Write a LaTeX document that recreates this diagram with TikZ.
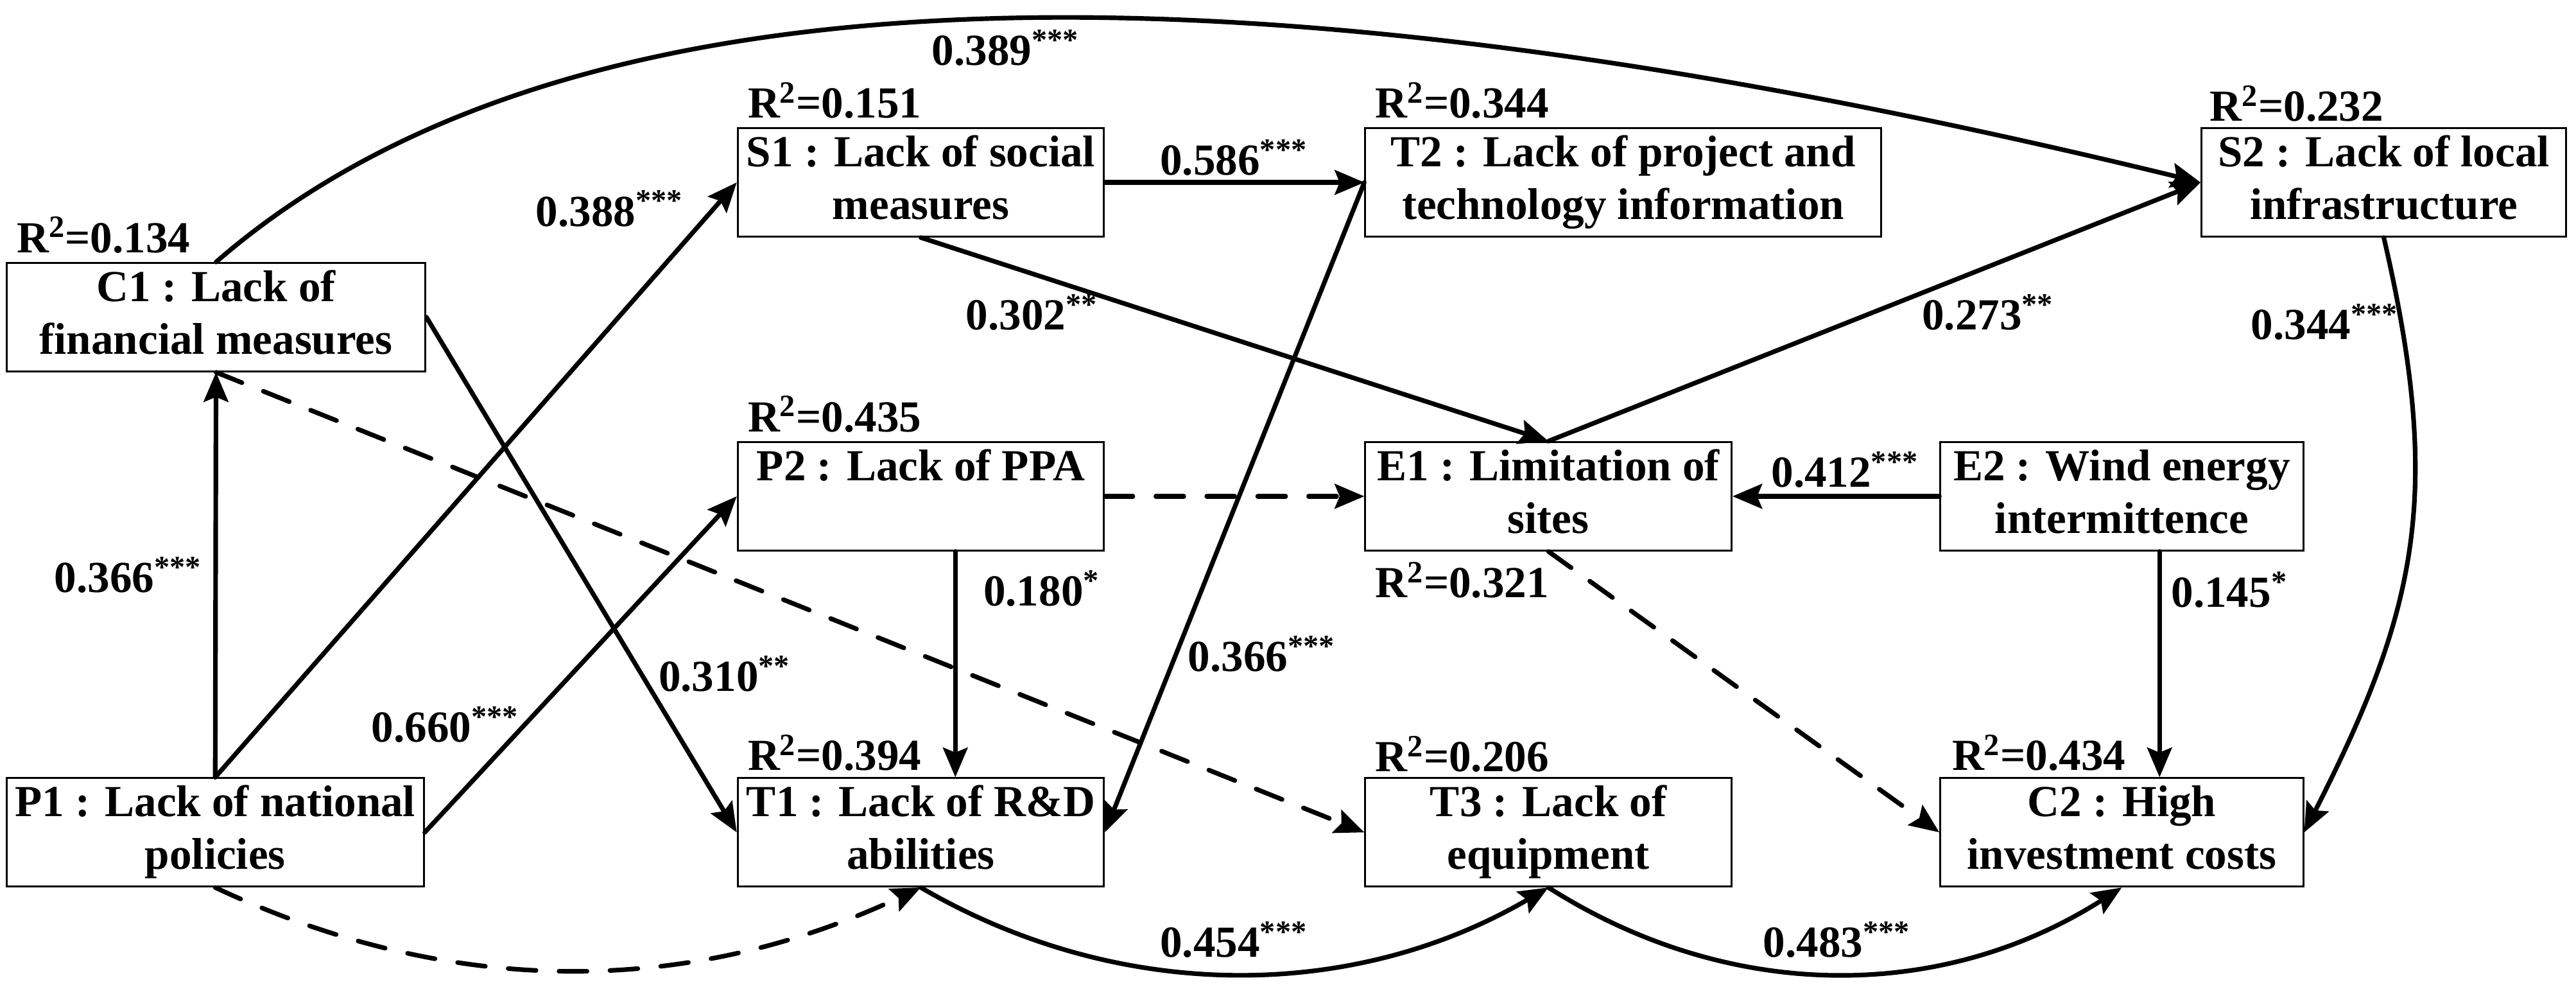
\documentclass[tikz,border=0pt]{standalone}
\usepackage{fontspec}
\setmainfont{Liberation Serif}
\usetikzlibrary{arrows.meta}
\newcommand\bxf{\bfseries\fontsize{27}{32}\selectfont}
\tikzset{
  box/.style={draw, line width=1.1pt, minimum height=66pt, inner sep=0pt, align=center, font=\bxf},
  lab/.style={inner sep=0pt, font=\bxf},
  conn/.style={line width=2.8pt, line cap=round, -{Stealth[length=18pt,width=15pt,inset=3pt]}},
  dconn/.style={conn, dash pattern=on 17pt off 14pt}
}
\begin{document}
\begin{tikzpicture}[x=1pt,y=-1pt]
\useasboundingbox[fill=white] (0,0) rectangle (1568,599);
% boxes
\node[box, minimum width=255pt] (C1) at (131.5,193) {\strut C1 : Lack of\\financial measures\strut};
\node[box, minimum width=223pt] (S1) at (560.5,111) {\strut S1 : Lack of social\\measures\strut};
\node[box, minimum width=314pt] (T2) at (988,111) {\strut T2 : Lack of project and\\technology information\strut};
\node[box, minimum width=222pt] (S2) at (1451,111) {\strut S2 : Lack of local\\infrastructure\strut};
\node[box, minimum width=223pt] (P2) at (560.5,302) {\strut P2 : Lack of PPA\\ \strut};
\node[box, minimum width=223pt] (E1) at (942.5,302) {\strut E1 : Limitation of\\sites\strut};
\node[box, minimum width=221pt] (E2) at (1291.5,302) {\strut E2 : Wind energy\\intermittence\strut};
\node[box, minimum width=254pt] (P1) at (131,506.5) {\strut P1 : Lack of national\\policies\strut};
\node[box, minimum width=223pt] (T1) at (560.5,506.5) {\strut T1 : Lack of R\&D\\abilities\strut};
\node[box, minimum width=223pt] (T3) at (942.5,506.5) {\strut T3 : Lack of\\equipment\strut};
\node[box, minimum width=221pt] (C2) at (1291.5,506.5) {\strut C2 : High\\investment costs\strut};
% R squared labels
\node[lab, anchor=west] (rC1) at (10,143) {R\textsuperscript{2}=0.134};
\node[lab, anchor=west] (rS1) at (455,61) {R\textsuperscript{2}=0.151};
\node[lab, anchor=west] (rT2) at (837,61) {R\textsuperscript{2}=0.344};
\node[lab, anchor=west] (rS2) at (1345,63) {R\textsuperscript{2}=0.232};
\node[lab, anchor=west] (rP2) at (455,252) {R\textsuperscript{2}=0.435};
\node[lab, anchor=west] (rE1) at (837,353) {R\textsuperscript{2}=0.321};
\node[lab, anchor=west] (rT1) at (455,458) {R\textsuperscript{2}=0.394};
\node[lab, anchor=west] (rT3) at (837,459) {R\textsuperscript{2}=0.206};
\node[lab, anchor=west] (rC2) at (1188,458) {R\textsuperscript{2}=0.434};
% connectors
\draw[conn] (P1.north) -- (C1.south);
\draw[conn] (P1.north) -- (S1.west);
\draw[conn] (P1.east) -- (P2.west);
\draw[dconn] (P1.south) .. controls +(143,67) and +(-143,67) .. (T1.south);
\draw[conn] (C1.east) -- (T1.west);
\draw[dconn] (C1.south) -- (T3.west);
\draw[conn] (C1.north) .. controls (361,-40) and (802,-20) .. (S2.west);
\draw[conn] (S1.east) -- (T2.west);
\draw[conn] (S1.south) -- (E1.north);
\draw[conn] (E1.north) -- (S2.west);
\draw[conn] (T2.west) -- (T1.east);
\draw[dconn] (P2.east) -- (E1.west);
\draw[conn] ([xshift=21pt]P2.south) -- ([xshift=21pt]T1.north);
\draw[conn] (E2.west) -- (E1.east);
\draw[conn] ([xshift=23pt]E2.south) -- ([xshift=23pt]C2.north);
\draw[dconn] (E1.south) -- (C2.west);
\draw[conn] (S2.south) .. controls (1487,300) and (1472,370) .. (C2.east);
\draw[conn] (T1.south) .. controls +(120,70) and +(-120,70) .. (T3.south);
\draw[conn] (T3.south) .. controls +(110,70) and +(-110,70) .. (C2.south);
% coefficient labels
\node[lab] (k1) at (612,29) {0.389\textsuperscript{***}};
\node[lab] (k2) at (371,127) {0.388\textsuperscript{***}};
\node[lab] (k3) at (751,96) {0.586\textsuperscript{***}};
\node[lab] (k4) at (628,190) {0.302\textsuperscript{**}};
\node[lab] (k5) at (1210,190) {0.273\textsuperscript{**}};
\node[lab] (k6) at (1415,196) {0.344\textsuperscript{***}};
\node[lab] (k7) at (78,350) {0.366\textsuperscript{***}};
\node[lab] (k8) at (271,441) {0.660\textsuperscript{***}};
\node[lab] (k9) at (441,410) {0.310\textsuperscript{**}};
\node[lab] (k10) at (634,358) {0.180\textsuperscript{*}};
\node[lab] (k11) at (768,398) {0.366\textsuperscript{***}};
\node[lab] (k12) at (1123,286) {0.412\textsuperscript{***}};
\node[lab] (k13) at (1357,359) {0.145\textsuperscript{*}};
\node[lab] (k14) at (751,572) {0.454\textsuperscript{***}};
\node[lab] (k15) at (1118,572) {0.483\textsuperscript{***}};
\end{tikzpicture}
\end{document}
